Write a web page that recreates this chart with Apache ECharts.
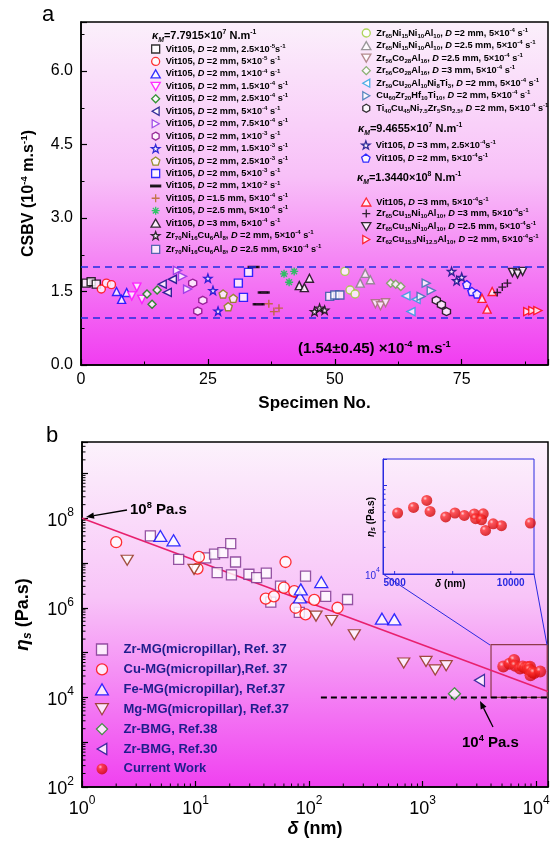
<!DOCTYPE html>
<html>
<head>
<meta charset="utf-8">
<title>CSBV and shear viscosity</title>
<script src="https://cdn.jsdelivr.net/npm/echarts@6.0.0/dist/echarts.min.js"></script>
<style>
  html, body { margin: 0; padding: 0; background: #fff; }
  #chart { width: 550px; height: 844px; }
</style>
</head>
<body>
<div id="chart"></div>
<script>
const FONT = '"Liberation Sans", Arial, Helvetica, sans-serif'

// ---------- panel a: CSBV (10^-4 m/s) per specimen, three specimens per condition
const specimenNo = [
  1, 2, 3, 4, 5, 6, 7, 8, 9, 10, 11, 12, 13, 14, 15, 16, 17, 18,
  19, 20, 21, 22, 23, 24, 25, 26, 27, 28, 29, 30, 31, 32, 33, 34, 35, 36,
  37, 38, 39, 40, 41, 42, 43, 44, 45, 46, 47, 48, 49, 50, 51, 52, 53, 54,
  55, 56, 57, 58, 59, 60, 61, 62, 63, 64, 65, 66, 67, 68, 69, 70, 71, 72,
  73, 74, 75, 76, 77, 78, 79, 80, 81, 82, 83, 84, 85, 86, 87, 88, 89, 90
]
const csbv = [
  1.67, 1.70, 1.65, 1.55, 1.67, 1.64, 1.50, 1.34, 1.48,
  1.41, 1.59, 1.34, 1.45, 1.24, 1.53, 1.65, 1.48, 1.75,
  1.93, 1.81, 1.55, 1.67, 1.10, 1.32, 1.77, 1.52, 1.10,
  1.45, 1.19, 1.36, 1.67, 1.38, 1.89, 2.00, 1.24, 1.48,
  1.25, 1.09, 1.16, 1.86, 1.69, 1.91, 1.62, 1.58, 1.77,
  1.09, 1.16, 1.12, 1.40, 1.43, 1.43, 1.91, 1.53, 1.45,
  1.67, 1.87, 1.74, 1.25, 1.21, 1.27, 1.67, 1.65, 1.60,
  1.41, 1.09, 1.34, 1.40, 1.67, 1.52, 1.32, 1.23, 1.09,
  1.91, 1.72, 1.79, 1.64, 1.50, 1.45, 1.36, 1.14, 1.50,
  1.48, 1.59, 1.67, 1.89, 1.86, 1.91, 1.09, 1.11, 1.11
]
const bandLimits = [0.97, 2.0]

// legend texts: _sub_, ^sup^, *italic*
const groupLabels = [
  'Vit105, *D* =2 mm, 2.5×10^-5^s^-1^',
  'Vit105, *D* =2 mm, 5×10^-5^ s^-1^',
  'Vit105, *D* =2 mm, 1×10^-4^ s^-1^',
  'Vit105, *D* =2 mm, 1.5×10^-4^ s^-1^',
  'Vit105, *D* =2 mm, 2.5×10^-4^ s^-1^',
  'Vit105, *D* =2 mm, 5×10^-4^ s^-1^',
  'Vit105, *D* =2 mm, 7.5×10^-4^ s^-1^',
  'Vit105, *D* =2 mm, 1×10^-3^ s^-1^',
  'Vit105, *D* =2 mm, 1.5×10^-3^ s^-1^',
  'Vit105, *D* =2 mm, 2.5×10^-3^ s^-1^',
  'Vit105, *D* =2 mm, 5×10^-3^ s^-1^',
  'Vit105, *D* =2 mm, 1×10^-2^ s^-1^',
  'Vit105, *D* =1.5 mm, 5×10^-4^ s^-1^',
  'Vit105, *D* =2.5 mm, 5×10^-4^ s^-1^',
  'Vit105, *D* =3 mm, 5×10^-4^ s^-1^',
  'Zr_70_Ni_16_Cu_6_Al_8_, *D* =2 mm, 5×10^-4^ s^-1^',
  'Zr_70_Ni_16_Cu_6_Al_8_, *D* =2.5 mm, 5×10^-4^ s^-1^',
  'Zr_65_Ni_15_Ni_10_Al_10_, *D* =2 mm, 5×10^-4^ s^-1^',
  'Zr_65_Ni_15_Ni_10_Al_10_, *D* =2.5 mm, 5×10^-4^ s^-1^',
  'Zr_56_Co_28_Al_16_, *D* =2.5 mm, 5×10^-4^ s^-1^',
  'Zr_56_Co_28_Al_16_, *D* =3 mm, 5×10^-4^ s^-1^',
  'Zr_59_Cu_20_Al_10_Ni_8_Ti_3_, *D* =2 mm, 5×10^-4^ s^-1^',
  'Cu_60_Zr_20_Hf_10_Ti_10_, *D* =2 mm, 5×10^-4^ s^-1^',
  'Ti_40_Cu_45_Ni_7.5_Zr_5_Sn_2.5_, *D* =2 mm, 5×10^-4^ s^-1^',
  'Vit105, *D* =3 mm, 2.5×10^-4^s^-1^',
  'Vit105, *D* =2 mm, 5×10^-4^s^-1^',
  'Vit105, *D* =3 mm, 5×10^-4^s^-1^',
  'Zr_65_Cu_15_Ni_10_Al_10_, *D* =3 mm, 5×10^-4^s^-1^',
  'Zr_65_Cu_15_Ni_10_Al_10_, *D* =2.5 mm, 5×10^-4^s^-1^',
  'Zr_62_Cu_15.5_Ni_12.5_Al_10_, *D* =2 mm, 5×10^-4^s^-1^'
]

// ---------- panel b: shear viscosity (Pa.s) vs size (nm)
const zrMgSize = [4.0, 7.1, 12.3, 14.7, 17.4, 20.4, 22.5, 15.5, 20.7, 29.5, 34.5, 42, 46, 56, 82, 93, 140, 218]
const zrMgVisc = [4.0e7, 1.2e7, 1.3e7, 1.57e7, 1.7e7, 2.7e7, 1.05e7, 6.1e6, 5.4e6, 5.6e6, 4.7e6, 5.9e6, 1.34e6, 3.05e6, 7.9e5, 5.1e6, 1.8e6, 1.53e6]
const cuMgSize = [2.0, 10.4, 10.7, 41.5, 49, 60, 62, 74, 76, 93, 111, 178]
const cuMgVisc = [2.9e7, 7.5e6, 1.36e7, 1.6e6, 1.8e6, 2.8e6, 1.05e7, 2.35e6, 1.0e6, 7.1e5, 1.5e6, 1.0e6]
const feMgSize = [4.9, 6.4, 83, 84.5, 128, 438, 563]
const feMgVisc = [4.0e7, 3.2e7, 1.7e6, 2.57e6, 3.75e6, 5.7e5, 5.5e5]
const mgMgSize = [2.5, 9.7, 115, 158, 250, 681, 1070, 1290, 1610]
const mgMgVisc = [1.15e7, 7.2e6, 6.5e5, 5.2e5, 2.5e5, 5.85e4, 6.35e4, 4.1e4, 5.1e4]
const zrBmg38Size = [1905]
const zrBmg38Visc = [1.2e4]
const zrBmg30Size = [3165]
const zrBmg30Visc = [2.4e4]
const currentSize = [5129, 5814, 6384, 6526, 7199, 7597, 8000, 8429, 8486, 8815, 8742, 8914, 9243, 9599, 10842]
const currentVisc = [4.9e4, 5.66e4, 6.8e4, 5.1e4, 4.42e4, 4.9e4, 4.6e4, 4.78e4, 4.23e4, 4.8e4, 4.11e4, 3.11e4, 3.7e4, 3.52e4, 3.77e4]
const fitSize = [1, 12700]
const fitVisc = [1e8, 1.35e4]
const limitSize = [127, 12700]
const limitVisc = [1e4, 1e4]
const boxSize = [4000, 12500]
const boxVisc = [1e4, 1.5e5]

// ---------- helpers
const zip = (xs, ys) => xs.map((x, i) => [x, ys[i]])

function rich(s) {
  let out = '', mode = 't', buf = ''
  const flush = () => { if (buf) out += '{' + mode + '|' + buf + '}'; buf = '' }
  for (const ch of s) {
    const m = ch === '_' ? 'b' : ch === '^' ? 'p' : ch === '*' ? 'i' : null
    if (m) { flush(); mode = mode === m ? 't' : m } else buf += ch
  }
  flush()
  return out
}

function richSet(size, color, lh, italicSub, ratio) {
  const base = { fontFamily: FONT, fontWeight: 'bold', color: color, fontSize: size, lineHeight: lh, verticalAlign: 'middle' }
  const small = Math.round(size * (ratio || 0.62) * 10) / 10
  return {
    t: base,
    i: Object.assign({}, base, { fontStyle: 'italic' }),
    p: Object.assign({}, base, { fontSize: small, lineHeight: small + 1, verticalAlign: 'top' }),
    b: Object.assign({}, base, { fontSize: small, lineHeight: small + 1, verticalAlign: 'bottom', fontStyle: italicSub ? 'italic' : 'normal' })
  }
}

function powLabel(v, evenOnly) {
  const e = Math.log10(v), r = Math.round(e)
  if (Math.abs(e - r) > 1e-6) return ''
  if (evenOnly && r % 2 !== 0) return ''
  return '{b|10}{s|' + r + '}'
}
const powRich = (size, color) => ({
  b: { fontSize: size, fontFamily: FONT, color: color, lineHeight: size + 5, verticalAlign: 'bottom' },
  s: { fontSize: Math.round(size * 0.65), fontFamily: FONT, color: color, lineHeight: Math.round(size * 0.7), verticalAlign: 'top' }
})

function logMinor(lo, hi) {
  const out = []
  for (let n = Math.floor(Math.log10(lo)); n <= Math.ceil(Math.log10(hi)); n++) {
    for (let k = 2; k <= 9; k++) {
      const v = k * Math.pow(10, n)
      if (v > lo * 1.0001 && v < hi * 0.9999) out.push(v)
    }
  }
  return out
}

function tickSeries(xi, yi, pts, dx, dy, color) {
  return {
    type: 'custom', xAxisIndex: xi, yAxisIndex: yi, silent: true, clip: false, z: 6,
    data: pts,
    renderItem: (params, api) => {
      const p = api.coord([api.value(0), api.value(1)])
      return { type: 'line', shape: { x1: p[0], y1: p[1], x2: p[0] + dx, y2: p[1] + dy }, style: { stroke: color, lineWidth: 1 } }
    }
  }
}

function arrow(x1, y1, x2, y2) {
  const a = Math.atan2(y2 - y1, x2 - x1), L = 8, W = 3.2
  const bx = x2 - L * Math.cos(a), by = y2 - L * Math.sin(a)
  return [
    { type: 'line', z: 100, shape: { x1: x1, y1: y1, x2: bx, y2: by }, style: { stroke: '#000', lineWidth: 1.3 } },
    { type: 'polygon', z: 100, shape: { points: [[x2, y2], [bx - W * Math.sin(a), by + W * Math.cos(a)], [bx + W * Math.sin(a), by - W * Math.cos(a)]] }, style: { fill: '#000' } }
  ]
}

function label(text, x, y, size, color, opts) {
  return Object.assign({
    type: 'text', z: 100, x: x, y: y,
    style: { text: rich(text), rich: richSet(size, color, size + 4, true), verticalAlign: 'middle', align: 'left' }
  }, opts || {})
}

const SYM = {
  square: 'path://M0,0L10,0L10,10L0,10Z',
  circle: 'circle',
  up: 'path://M5,0L10,8.66L0,8.66Z',
  down: 'path://M0,0L10,0L5,8.66Z',
  left: 'path://M8.66,0L8.66,10L0,5Z',
  right: 'path://M0,0L8.66,5L0,10Z',
  diamond: 'path://M5,0L10,5L5,10L0,5Z',
  hexagon: 'path://M5,0L9.33,2.5L9.33,7.5L5,10L0.67,7.5L0.67,2.5Z',
  star: 'path://M5,0L6.18,3.38L9.76,3.46L6.9,5.62L7.94,9.05L5,7L2.06,9.05L3.1,5.62L0.24,3.46L3.82,3.38Z',
  pentagon: 'path://M5,0L9.76,3.46L7.94,9.05L2.06,9.05L0.24,3.46Z',
  dash: 'path://M0,4.2L10,4.2L10,5.8L0,5.8Z',
  plus: 'path://M5,0L5,10M0,5L10,5',
  aster: 'path://M5,0L5,10M0,5L10,5M1.46,1.46L8.54,8.54M1.46,8.54L8.54,1.46'
}

const groupStyle = [
  ['square', '#000000'], ['circle', '#ff0000'], ['up', '#0000ff'], ['down', '#ff00ff'],
  ['diamond', '#008000'], ['left', '#000080'], ['right', '#8a2be2'], ['hexagon', '#800080'],
  ['star', '#0000cd'], ['pentagon', '#808000'], ['square', '#0000ff'], ['dash', '#000000'],
  ['plus', '#b5651d'], ['aster', '#00cc44'], ['up', '#000000'], ['star', '#000000'],
  ['square', '#3050a0'], ['circle', '#9acd32'], ['up', '#808080'], ['down', '#a07070'],
  ['diamond', '#6ea050'], ['left', '#20a0e0'], ['right', '#2f6fb0'], ['hexagon', '#000000'],
  ['star', '#000080'], ['pentagon', '#0000ff'], ['up', '#ff0000'], ['plus', '#000000'],
  ['down', '#000000'], ['right', '#ff0000']
]

const seriesA = groupLabels.map((lab, g) => {
  const [sym, col] = groupStyle[g]
  return {
    name: 'a' + g, type: 'scatter', xAxisIndex: 0, yAxisIndex: 0, z: 4,
    symbol: SYM[sym], symbolSize: sym === 'dash' ? [9, 1.8] : 8,
    itemStyle: { color: sym === 'dash' ? col : '#fff', borderColor: col, borderWidth: 1.4 },
    data: zip(specimenNo.slice(3 * g, 3 * g + 3), csbv.slice(3 * g, 3 * g + 3))
  }
})
seriesA[0].markLine = {
  silent: true, symbol: 'none', label: { show: false },
  lineStyle: { color: '#1f2fe0', type: [7, 5], width: 1.6 },
  data: bandLimits.map(v => ({ yAxis: v }))
}

const legRich = richSet(9.2, '#000', 12, false, 0.66)
function legendA(idx, left, top, gap) {
  return {
    orient: 'vertical', left: left, top: top, itemGap: gap, padding: 0,
    itemWidth: 10, itemHeight: 8, symbolKeepAspect: true, selectedMode: false,
    itemStyle: { borderWidth: 1.3 },
    data: idx.map(i => 'a' + i),
    formatter: n => rich(groupLabels[+n.slice(1)]),
    textStyle: { rich: legRich }
  }
}

const gradA = new echarts.graphic.LinearGradient(0, 0, 0, 1, [
  { offset: 0, color: '#fbf0fb' }, { offset: 0.45, color: '#f8c0f8' }, { offset: 1, color: '#f13cf1' }
])
const gradB = new echarts.graphic.LinearGradient(0, 0, 0, 1, [
  { offset: 0, color: '#fcf2fc' }, { offset: 0.45, color: '#f8c4f8' }, { offset: 1, color: '#f040f0' }
])
const ball = new echarts.graphic.RadialGradient(0.35, 0.32, 0.75, [
  { offset: 0, color: '#ffd0d0' }, { offset: 0.25, color: '#ff3030' }, { offset: 1, color: '#c80000' }
])

const namesB = ['Zr-MG(micropillar), Ref. 37', 'Cu-MG(micropillar),Ref. 37', 'Fe-MG(micropillar), Ref.37',
  'Mg-MG(micropillar), Ref.37', 'Zr-BMG, Ref.38', 'Zr-BMG, Ref.30', 'Current Work']

const hollow = (c) => ({ color: '#fff', borderColor: c, borderWidth: 1.3 })
const seriesB = [
  { name: 'fit', type: 'line', xAxisIndex: 1, yAxisIndex: 1, symbol: 'none', z: 2, silent: true,
    lineStyle: { color: '#e8206e', width: 1.6 }, data: zip(fitSize, fitVisc) },
  { name: 'limit', type: 'line', xAxisIndex: 1, yAxisIndex: 1, symbol: 'none', z: 2, silent: true,
    lineStyle: { color: '#000', width: 2, type: [6, 4] }, data: zip(limitSize, limitVisc) },
  { name: namesB[0], type: 'scatter', xAxisIndex: 1, yAxisIndex: 1, symbol: SYM.square, symbolSize: 10,
    itemStyle: hollow('#7b2f8c'), data: zip(zrMgSize, zrMgVisc) },
  { name: namesB[1], type: 'scatter', xAxisIndex: 1, yAxisIndex: 1, symbol: 'circle', symbolSize: 11,
    itemStyle: hollow('#ff0000'), data: zip(cuMgSize, cuMgVisc) },
  { name: namesB[2], type: 'scatter', xAxisIndex: 1, yAxisIndex: 1, symbol: SYM.up, symbolSize: [13, 11],
    itemStyle: hollow('#0000ff'), data: zip(feMgSize, feMgVisc) },
  { name: namesB[3], type: 'scatter', xAxisIndex: 1, yAxisIndex: 1, symbol: SYM.down, symbolSize: [12, 10],
    itemStyle: hollow('#8b2a10'), data: zip(mgMgSize, mgMgVisc) },
  { name: namesB[4], type: 'scatter', xAxisIndex: 1, yAxisIndex: 1, symbol: SYM.diamond, symbolSize: 12,
    itemStyle: hollow('#1a8a1a'), data: zip(zrBmg38Size, zrBmg38Visc) },
  { name: namesB[5], type: 'scatter', xAxisIndex: 1, yAxisIndex: 1, symbol: SYM.left, symbolSize: [10, 12],
    itemStyle: hollow('#10108a'), data: zip(zrBmg30Size, zrBmg30Visc) },
  { name: namesB[6], type: 'scatter', xAxisIndex: 1, yAxisIndex: 1, symbol: 'circle', symbolSize: 12, z: 5,
    itemStyle: { color: ball }, data: zip(currentSize, currentVisc),
    markArea: { silent: true, itemStyle: { color: 'rgba(0,0,0,0)', borderColor: '#8e3a4a', borderWidth: 1.2 },
      data: [[{ coord: [boxSize[0], boxVisc[0]] }, { coord: [boxSize[1], boxVisc[1]] }]] } },
  { name: 'inset', type: 'scatter', xAxisIndex: 2, yAxisIndex: 2, symbol: 'circle', symbolSize: 11, z: 5,
    itemStyle: { color: ball }, data: zip(currentSize, currentVisc) },
  tickSeries(1, 1, logMinor(1, 12700).map(v => [v, 100]), 0, -3.5, '#000'),
  tickSeries(1, 1, logMinor(100, 5e9).map(v => [1, v]), 3.5, 0, '#000'),
  tickSeries(2, 2, logMinor(1e4, 2e5).map(v => [4500, v]), 2.5, 0, '#2a2ae0'),
  tickSeries(2, 2, [5000, 7500, 10000].map(v => [v, 1e4]), 0, -3, '#2a2ae0')
]

const axisLineBlack = { show: true, lineStyle: { color: '#000', width: 1.5 } }
const blue = '#2a2ae0'

const option = {
  animation: false,
  backgroundColor: '#fff',
  grid: [
    { left: 81, top: 22, width: 467, height: 343, show: true, backgroundColor: gradA, borderColor: '#000', borderWidth: 1.5, containLabel: false, outerBoundsMode: 'none' },
    { left: 82, top: 442, width: 466, height: 345, show: true, backgroundColor: gradB, borderColor: '#000', borderWidth: 1.5, containLabel: false, outerBoundsMode: 'none' },
    { left: 383, top: 459, width: 151, height: 115, show: true, backgroundColor: 'rgba(0,0,0,0)', borderColor: blue, borderWidth: 1, containLabel: false, outerBoundsMode: 'none', z: 3 }
  ],
  xAxis: [
    { gridIndex: 0, type: 'value', min: 0, max: 92, interval: 25,
      axisLine: axisLineBlack, splitLine: { show: false },
      axisTick: { inside: true, length: 6, lineStyle: { color: '#000', width: 1.2 } },
      minorTick: { show: true, splitNumber: 2, length: 3.5, lineStyle: { color: '#000', width: 1 } },
      axisLabel: { fontSize: 16, fontFamily: FONT, color: '#000', margin: 7, formatter: v => (v % 25 === 0 ? String(v) : '') },
      name: 'Specimen No.', nameLocation: 'middle', nameGap: 30,
      nameTextStyle: { fontSize: 17, fontWeight: 'bold', fontFamily: FONT, color: '#000' } },
    { gridIndex: 1, type: 'log', logBase: 10, min: 1, max: 12700,
      axisLine: axisLineBlack, splitLine: { show: false }, minorTick: { show: false },
      axisTick: { inside: true, length: 6, lineStyle: { color: '#000', width: 1.2 } },
      axisLabel: { margin: 8, formatter: v => powLabel(v, false), rich: powRich(18, '#000') },
      name: '{i|δ}{t| (nm)}', nameLocation: 'middle', nameGap: 33,
      nameTextStyle: { rich: { i: { fontSize: 18, fontWeight: 'bold', fontStyle: 'italic', fontFamily: FONT, color: '#000' }, t: { fontSize: 18, fontWeight: 'bold', fontFamily: FONT, color: '#000' } } } },
    { gridIndex: 2, type: 'value', min: 4500, max: 11000, interval: 500,
      axisLine: { show: true, lineStyle: { color: blue, width: 1 } }, splitLine: { show: false },
      axisTick: { show: false },
      axisLabel: { fontSize: 10, fontWeight: 'bold', fontFamily: FONT, color: blue, margin: 4,
        formatter: v => (v === 5000 || v === 10000 ? String(v) : '') } }
  ],
  yAxis: [
    { gridIndex: 0, type: 'value', min: 0, max: 7, interval: 1.5,
      axisLine: axisLineBlack, splitLine: { show: false },
      axisTick: { inside: true, length: 6, lineStyle: { color: '#000', width: 1.2 } },
      minorTick: { show: true, splitNumber: 2, length: 3.5, lineStyle: { color: '#000', width: 1 } },
      axisLabel: { fontSize: 16, fontFamily: FONT, color: '#000', margin: 8, formatter: v => (v > 6.9 ? '' : v.toFixed(1)) },
      name: rich('CSBV (10^-4^ m.s^-1^)'), nameLocation: 'middle', nameRotate: 90, nameGap: 42,
      nameTextStyle: { rich: richSet(16, '#000', 20, false) } },
    { gridIndex: 1, type: 'log', logBase: 10, min: 100, max: 5e9,
      axisLine: axisLineBlack, splitLine: { show: false }, minorTick: { show: false },
      axisTick: { inside: true, length: 6, lineStyle: { color: '#000', width: 1.2 } },
      axisLabel: { margin: 8, formatter: v => powLabel(v, true), rich: powRich(18, '#000') },
      name: '{i|η}{b|s}{t| (Pa.s)}', nameLocation: 'middle', nameRotate: 90, nameGap: 48,
      nameTextStyle: { rich: {
        i: { fontSize: 19, fontWeight: 'bold', fontStyle: 'italic', fontFamily: FONT, color: '#000', lineHeight: 22, verticalAlign: 'middle' },
        b: { fontSize: 12, fontWeight: 'bold', fontStyle: 'italic', fontFamily: FONT, color: '#000', lineHeight: 12, verticalAlign: 'bottom' },
        t: { fontSize: 18, fontWeight: 'bold', fontFamily: FONT, color: '#000', lineHeight: 22, verticalAlign: 'middle' } } } },
    { gridIndex: 2, type: 'log', logBase: 10, min: 1e4, max: 2e5,
      axisLine: { show: true, lineStyle: { color: blue, width: 1 } }, splitLine: { show: false }, minorTick: { show: false },
      axisTick: { inside: true, length: 4, lineStyle: { color: blue, width: 1 } },
      axisLabel: { margin: 3, formatter: v => (Math.abs(v - 1e4) < 1 ? '{b|10}{s|4}' : ''), rich: powRich(10, blue) } }
  ],
  legend: [
    legendA([0, 1, 2, 3, 4, 5, 6, 7, 8, 9, 10, 11, 12, 13, 14, 15, 16], 150, 43, 1.8),
    legendA([17, 18, 19, 20, 21, 22, 23], 361, 27, 0.55),
    legendA([24, 25], 361, 139, 2.5),
    legendA([26, 27, 28, 29], 361, 196, 0.95),
    { orient: 'vertical', left: 95, top: 643, itemGap: 6.9, padding: 0,
      itemWidth: 33, itemHeight: 11, symbolKeepAspect: true, selectedMode: false,
      itemStyle: { borderWidth: 1.3 },
      data: namesB.slice(0, 6).concat([{ name: namesB[6], itemStyle: { borderWidth: 0 } }]),
      textStyle: { fontSize: 13, fontWeight: 'bold', fontFamily: FONT, color: '#1e1e8c', lineHeight: 12 } }
  ],
  graphic: [
    { type: 'text', z: 100, x: 42, y: 15, style: { text: 'a', font: '22px ' + FONT, fill: '#000', verticalAlign: 'middle' } },
    { type: 'text', z: 100, x: 46, y: 436, style: { text: 'b', font: '22px ' + FONT, fill: '#000', verticalAlign: 'middle' } },
    label('*κ*_M_=7.7915×10^7^ N.m^-1^', 152, 36, 11, '#1c1c9c'),
    label('*κ*_M_=9.4655×10^7^ N.m^-1^', 358, 129, 11, '#1c1c9c'),
    label('*κ*_M_=1.3440×10^8^ N.m^-1^', 357, 178, 11, '#1c1c9c'),
    label('(1.54±0.45) ×10^-4^ m.s^-1^', 298, 349, 15, '#000'),
    label('10^8^ Pa.s', 130, 510, 15, '#000'),
    label('10^4^ Pa.s', 462, 743, 15, '#000'),
    ...arrow(127, 510, 86, 517),
    ...arrow(493, 727, 480, 701),
    { type: 'line', z: 100, shape: { x1: 383, y1: 574, x2: 490, y2: 645 }, style: { stroke: blue, lineWidth: 1 } },
    { type: 'line', z: 100, shape: { x1: 534, y1: 574, x2: 547, y2: 645 }, style: { stroke: blue, lineWidth: 1 } },
    label('*δ* (nm)', 435, 584, 10, blue),
    { type: 'text', z: 100, x: 371, y: 517, rotation: Math.PI / 2,
      style: { text: '{i|η}{b|s}{t| (Pa.s)}', align: 'center', verticalAlign: 'middle', rich: {
        i: { fontSize: 10, fontWeight: 'bold', fontStyle: 'italic', fontFamily: FONT, color: blue, lineHeight: 12, verticalAlign: 'middle' },
        b: { fontSize: 7, fontWeight: 'bold', fontStyle: 'italic', fontFamily: FONT, color: blue, lineHeight: 7, verticalAlign: 'bottom' },
        t: { fontSize: 10, fontWeight: 'bold', fontFamily: FONT, color: blue, lineHeight: 12, verticalAlign: 'middle' } } } }
  ],
  series: seriesA.concat(seriesB)
}

const chart = echarts.init(document.getElementById('chart'), null, { renderer: 'canvas' })
chart.setOption(option)
</script>
</body>
</html>
